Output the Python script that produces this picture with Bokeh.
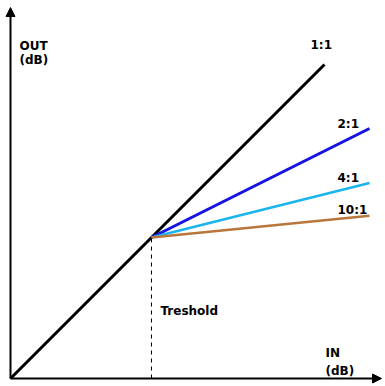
from bokeh.plotting import figure
from bokeh.models import Range1d, Arrow, NormalHead, Label
from bokeh.embed import file_html
from bokeh.resources import INLINE

# ---- data (chart units: dB, origin at the axis corner) ----
threshold = 141            # IN level where compression starts
one_to_one_end = 314       # where the 1:1 line stops
ratio_end = 359            # where the compressed lines stop
ratios = [2, 4, 10]
ratio_labels = ["2:1", "4:1", "10:1"]
ratio_colors = ["#1414E6", "#1CB4EC", "#B8763C"]
axis_in_max = 371
axis_out_max = 371

p = figure(width=385, height=386, output_backend="svg", toolbar_location=None,
           x_range=Range1d(-10, 375), y_range=Range1d(-8, 378), min_border=0)
p.axis.visible = False
p.grid.visible = False
p.outline_line_color = None
p.background_fill_color = "white"

# 1:1 line
p.line([0, one_to_one_end], [0, one_to_one_end], line_color="black", line_width=3)

# compressed lines
for r, c in zip(ratios, ratio_colors):
    out_end = threshold + (ratio_end - threshold) / r
    p.line([threshold, ratio_end], [threshold, out_end], line_color=c,
           line_width=3 if r == 2 else 2.6)

# threshold dashed line
p.line([threshold, threshold], [0, threshold], line_color="black", line_width=1,
       line_dash="4 4")

# axes with arrows
p.add_layout(Arrow(x_start=0, y_start=0, x_end=axis_in_max, y_end=0,
                   line_color="black", line_width=2,
                   end=NormalHead(size=9, fill_color="black", line_color="black")))
p.add_layout(Arrow(x_start=0, y_start=0, x_end=0, y_end=axis_out_max,
                   line_color="black", line_width=2,
                   end=NormalHead(size=9, fill_color="black", line_color="black")))

font = dict(text_font="DejaVu Sans", text_font_style="bold", text_font_size="12px",
            text_color="black", text_baseline="alphabetic", text_align="left")

labels = [
    ("OUT", 9, 333), ("(dB)", 9, 319),
    ("1:1", 300, 334),
    (ratio_labels[0], 327, 255), (ratio_labels[1], 327, 201), (ratio_labels[2], 327, 169),
    ("Treshold", 150, 68),
    ("IN", 315, 26), ("(dB)", 315, 8),
]
for t, x, y in labels:
    p.add_layout(Label(x=x, y=y, text=t, **font))

open("out.html", "w").write(file_html(p, INLINE))
